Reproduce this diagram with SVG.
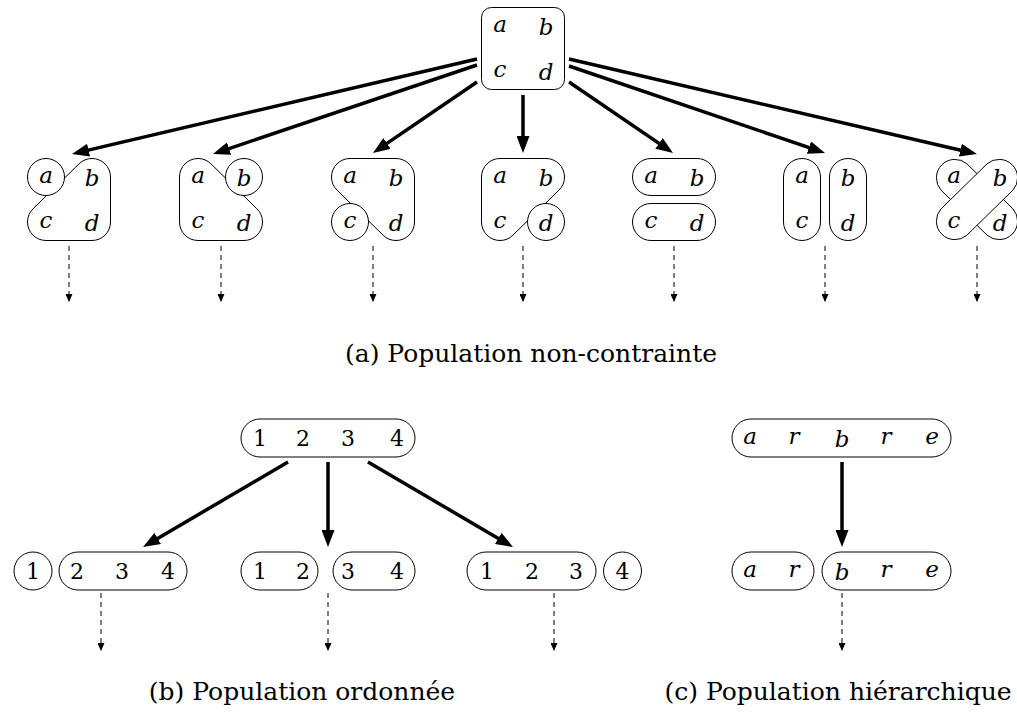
<svg xmlns="http://www.w3.org/2000/svg" width="1017" height="722" viewBox="0 0 1017 722">
<style>
.s{fill:#fff;stroke:#000;stroke-width:1}
.arr{stroke:#000;stroke-width:3.5;fill:none;marker-end:url(#big)}
.dash{stroke:#000;stroke-width:1;fill:none;stroke-dasharray:5 4;marker-end:url(#small)}
</style>
<defs>
<marker id="big" markerUnits="userSpaceOnUse" markerWidth="17" markerHeight="13" refX="8" refY="6.5" orient="auto"><path d="M0,0 L17,6.5 L0,13 Z" fill="#000"/></marker>
<marker id="small" markerUnits="userSpaceOnUse" markerWidth="8" markerHeight="7" refX="7" refY="3.5" orient="auto"><path d="M0,0 L8,3.5 L0,7 Z" fill="#000"/></marker>
</defs>
<rect width="1017" height="722" fill="#fff"/>

<g id="connectors">
<line class="arr" x1="477" y1="59" x2="80.8" y2="151.9"/>
<line class="arr" x1="477" y1="65" x2="221.5" y2="151.1"/>
<line class="arr" x1="477" y1="82" x2="380.4" y2="147.9"/>
<line class="arr" x1="523" y1="95" x2="523" y2="144"/>
<line class="arr" x1="569" y1="82" x2="665.6" y2="147.9"/>
<line class="arr" x1="569" y1="66" x2="816.5" y2="150.1"/>
<line class="arr" x1="569" y1="59" x2="968.2" y2="152"/>
<line class="dash" x1="69" y1="246" x2="69" y2="301"/>
<line class="dash" x1="221" y1="246" x2="221" y2="301"/>
<line class="dash" x1="373" y1="246" x2="373" y2="301"/>
<line class="dash" x1="523" y1="246" x2="523" y2="301"/>
<line class="dash" x1="674" y1="246" x2="674" y2="301"/>
<line class="dash" x1="825" y1="246" x2="825" y2="301"/>
<line class="dash" x1="977" y1="246" x2="977" y2="301"/>
<line class="arr" x1="288" y1="462" x2="150.8" y2="542.5"/>
<line class="arr" x1="328" y1="462" x2="328" y2="538"/>
<line class="arr" x1="368" y1="462" x2="505.2" y2="542.5"/>
<line class="arr" x1="842" y1="462" x2="842" y2="538"/>
<line class="dash" x1="101" y1="593" x2="101" y2="650"/>
<line class="dash" x1="328" y1="593" x2="328" y2="650"/>
<line class="dash" x1="554" y1="593" x2="554" y2="650"/>
<line class="dash" x1="842" y1="593" x2="842" y2="650"/>
</g>

<g font-family="DejaVu Serif, serif" font-style="italic" font-size="23" text-anchor="middle" fill="#000">
<g id="top-abcd">
<rect class="s" x="481.5" y="7.5" width="83" height="82" rx="10"/>
<text x="500" y="32">a</text><text x="546" y="34.5">b</text>
<text x="500" y="77">c</text><text x="546" y="79.5">d</text>
</g>

<g id="child-a-bcd">
<path class="s" d="M92,158.5 A18.5,18.5 0 0 1 110.5,177 L110.5,222 A18.5,18.5 0 0 1 92,240.5 L46,240.5 A18.5,18.5 0 0 1 27.5,222 A18.5,18.5 0 0 1 33.1,208.8 L79.1,163.8 A18.5,18.5 0 0 1 92,158.5 Z"/>
<circle class="s" cx="46" cy="177" r="18.5"/>
<text x="46" y="183">a</text><text x="92" y="185.5">b</text>
<text x="46" y="228">c</text><text x="92" y="230.5">d</text>
</g>

<g id="child-b-acd">
<path class="s" d="M198,158.5 A18.5,18.5 0 0 1 210.9,163.8 L256.9,208.8 A18.5,18.5 0 0 1 262.5,222 A18.5,18.5 0 0 1 244,240.5 L198,240.5 A18.5,18.5 0 0 1 179.5,222 L179.5,177 A18.5,18.5 0 0 1 198,158.5 Z"/>
<circle class="s" cx="244" cy="177" r="18.5"/>
<text x="198" y="183">a</text><text x="244" y="185.5">b</text>
<text x="198" y="228">c</text><text x="244" y="230.5">d</text>
</g>

<g id="child-c-abd">
<path class="s" d="M350,158.5 L396,158.5 A18.5,18.5 0 0 1 414.5,177 L414.5,222 A18.5,18.5 0 0 1 396,240.5 A18.5,18.5 0 0 1 383.1,235.2 L337.1,190.2 A18.5,18.5 0 0 1 331.5,177 A18.5,18.5 0 0 1 350,158.5 Z"/>
<circle class="s" cx="350" cy="222" r="18.5"/>
<text x="350" y="183">a</text><text x="396" y="185.5">b</text>
<text x="350" y="228">c</text><text x="396" y="230.5">d</text>
</g>

<g id="child-d-abc">
<path class="s" d="M500,158.5 L546,158.5 A18.5,18.5 0 0 1 564.5,177 A18.5,18.5 0 0 1 558.9,190.2 L512.9,235.2 A18.5,18.5 0 0 1 500,240.5 A18.5,18.5 0 0 1 481.5,222 L481.5,177 A18.5,18.5 0 0 1 500,158.5 Z"/>
<circle class="s" cx="546" cy="222" r="18.5"/>
<text x="500" y="183">a</text><text x="546" y="185.5">b</text>
<text x="500" y="228">c</text><text x="546" y="230.5">d</text>
</g>

<g id="child-ab-cd">
<rect class="s" x="632.5" y="158.5" width="83" height="37" rx="18.5"/>
<rect class="s" x="632.5" y="203.5" width="83" height="37" rx="18.5"/>
<text x="651" y="183">a</text><text x="697" y="185.5">b</text>
<text x="651" y="228">c</text><text x="697" y="230.5">d</text>
</g>

<g id="child-ac-bd">
<rect class="s" x="783.5" y="158.5" width="37" height="82" rx="18.5"/>
<rect class="s" x="829.5" y="158.5" width="37" height="82" rx="18.5"/>
<text x="802" y="183">a</text><text x="848" y="185.5">b</text>
<text x="802" y="228">c</text><text x="848" y="230.5">d</text>
</g>

<g id="child-ad-bc">
<path class="s" d="M966.9,163.8 L1012.9,208.8 A18.5,18.5 0 0 1 987.1,235.2 L941.1,190.2 A18.5,18.5 0 0 1 966.9,163.8 Z"/>
<path class="s" d="M987.1,163.8 A18.5,18.5 0 0 1 1012.9,190.2 L966.9,235.2 A18.5,18.5 0 0 1 941.1,208.8 Z"/>
<text x="954" y="183">a</text><text x="1000" y="185.5">b</text>
<text x="954" y="228">c</text><text x="1000" y="230.5">d</text>
</g>

<g id="hier-arbre">
<rect class="s" x="732" y="419" width="219" height="38" rx="19"/>
<text x="750" y="444">a</text><text x="794" y="444">r</text><text x="842" y="446.5">b</text><text x="886" y="444">r</text><text x="932" y="444">e</text>
</g>
<g id="hier-ar-bre">
<rect class="s" x="732" y="552" width="82" height="38" rx="19"/>
<text x="750" y="577">a</text><text x="794" y="577">r</text>
<rect class="s" x="822" y="552" width="129" height="38" rx="19"/>
<text x="842" y="579.5">b</text><text x="886" y="577">r</text><text x="932" y="577">e</text>
</g>
</g>

<g font-family="DejaVu Serif, serif" font-size="22" text-anchor="middle" fill="#000">
<g id="ord-1234">
<rect class="s" x="241" y="419" width="174" height="38" rx="19"/>
<text x="260" y="446">1</text><text x="303" y="446">2</text><text x="348" y="446">3</text><text x="397" y="446">4</text>
</g>
<g id="ord-1-234">
<circle class="s" cx="33" cy="571" r="19"/>
<text x="33" y="579">1</text>
<rect class="s" x="59" y="552" width="128" height="38" rx="19"/>
<text x="77" y="579">2</text><text x="122" y="579">3</text><text x="168" y="579">4</text>
</g>
<g id="ord-12-34">
<rect class="s" x="241" y="552" width="77" height="38" rx="19"/>
<text x="260" y="579">1</text><text x="303" y="579">2</text>
<rect class="s" x="333" y="552" width="82" height="38" rx="19"/>
<text x="348" y="579">3</text><text x="397" y="579">4</text>
</g>
<g id="ord-123-4">
<rect class="s" x="467" y="552" width="129" height="38" rx="19"/>
<text x="487" y="579">1</text><text x="532" y="579">2</text><text x="576" y="579">3</text>
<circle class="s" cx="622.5" cy="571" r="19"/>
<text x="622.5" y="579">4</text>
</g>
</g>

<g font-family="DejaVu Serif, serif" font-size="25" text-anchor="middle" fill="#000">
<text x="531" y="362">(a) Population non-contrainte</text>
<text x="302" y="700">(b) Population ordonnée</text>
<text x="838" y="700">(c) Population hiérarchique</text>
</g>
</svg>
